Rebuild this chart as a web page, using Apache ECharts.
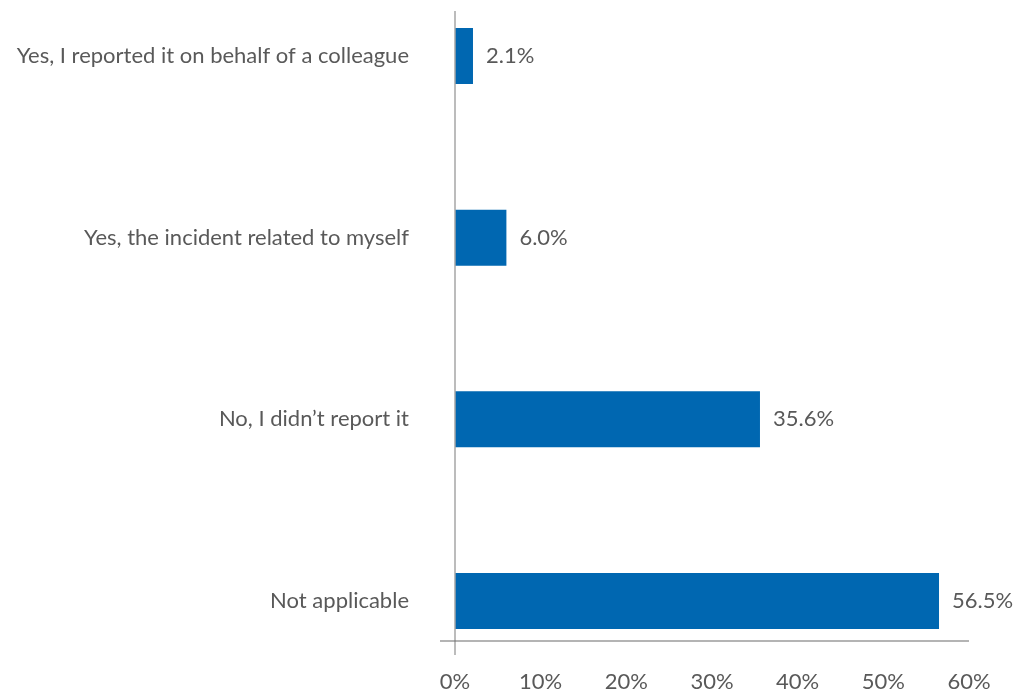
<!DOCTYPE html>
<html>
<head>
<meta charset="utf-8">
<script src="https://cdn.jsdelivr.net/npm/echarts@6/dist/echarts.min.js"></script>
<style>
  html, body { margin: 0; padding: 0; background: #fff; }
  #chart { width: 1013px; height: 693px; }
</style>
</head>
<body>
<div id="chart"></div>
<script>
// Survey responses: did you report the incident?
const categories = [
  'Yes, I reported it on behalf of a colleague',
  'Yes, the incident related to myself',
  'No, I didn\u2019t report it',
  'Not applicable'
];
const shares = [2.1, 6.0, 35.6, 56.5];
const axisMin = 0;
const axisMax = 60;
const axisStep = 10;

const textColor = '#595959';
const barColor = '#0067b1';
const font = 'Lato, "Open Sans", sans-serif';

const chart = echarts.init(document.getElementById('chart'), null, { renderer: 'canvas' });

chart.setOption({
  animation: false,
  backgroundColor: '#ffffff',
  grid: [
    // bars: answers sit on the ends and evenly between
    { left: 455, width: 514, top: 56, height: 545, containLabel: false },
    // percentage scale shown along the bottom
    { left: 455, width: 514, top: 11, height: 630, containLabel: false }
  ],
  xAxis: [
    { gridIndex: 0, type: 'value', min: axisMin, max: axisMax, interval: axisStep, show: false },
    {
      gridIndex: 1, type: 'value', min: axisMin, max: axisMax, interval: axisStep,
      axisLine: { show: false }, axisTick: { show: false }, splitLine: { show: false },
      axisLabel: { formatter: '{value}%', color: textColor, fontFamily: font, fontSize: 22, margin: 33 }
    }
  ],
  yAxis: [
    {
      gridIndex: 0, type: 'category', data: categories, inverse: true, boundaryGap: false,
      axisLine: { show: false }, axisTick: { show: false }, splitLine: { show: false },
      axisLabel: { color: textColor, fontFamily: font, fontSize: 22, margin: 46 }
    },
    { gridIndex: 1, type: 'value', show: false }
  ],
  series: [{
    type: 'bar',
    xAxisIndex: 0,
    yAxisIndex: 0,
    data: shares,
    barWidth: 56,
    itemStyle: { color: barColor },
    label: {
      show: true,
      position: 'right',
      distance: 13,
      color: textColor,
      fontFamily: font,
      fontSize: 22,
      formatter: p => p.value.toFixed(1) + '%'
    }
  }],
  graphic: [
    // vertical axis line, running slightly past the baseline
    { type: 'line', shape: { x1: 455, y1: 11, x2: 455, y2: 655 }, style: { stroke: '#a6a6a6', lineWidth: 1.5 }, z: 10 },
    // horizontal baseline
    { type: 'line', shape: { x1: 440, y1: 641, x2: 969, y2: 641 }, style: { stroke: '#6b6b6b', lineWidth: 1.2 }, z: 10 }
  ]
});
</script>
</body>
</html>
